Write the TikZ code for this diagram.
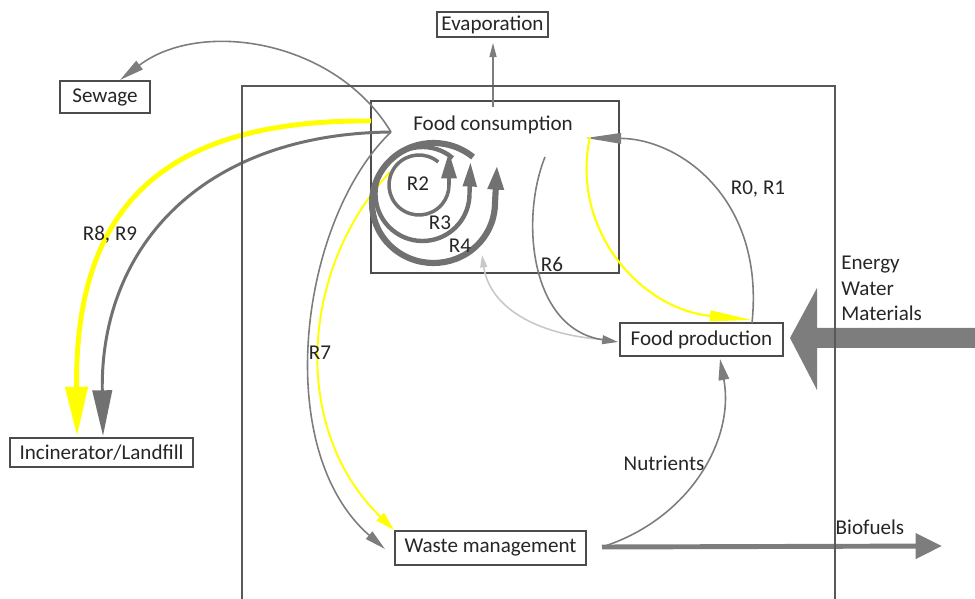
\documentclass[tikz,border=0pt]{standalone}
\usepackage{fontspec}
\setmainfont{Carlito}
\usetikzlibrary{arrows.meta}

\definecolor{flowgray}{RGB}{125,125,125}
\definecolor{lightflow}{RGB}{200,200,200}
\definecolor{flowyellow}{RGB}{255,255,0}

\tikzset{
  lbl/.style={font=\fontsize{12}{14}\selectfont, inner sep=0pt, text=black!85},
  box/.style={draw=black!70, line width=0.6pt, fill=white, inner sep=0pt,
              font=\fontsize{12}{14}\selectfont, text=black!85},
  thinflow/.style={draw=flowgray, line width=0.9pt},
  loopflow/.style={draw=flowgray!90!black},
  yflow/.style={draw=flowyellow},
}

\begin{document}
\begin{tikzpicture}[x=0.02cm, y=0.02cm]
\useasboundingbox (0,0) rectangle (975,599);

% ---- resource inflow (drawn under the system boundary)
\fill[flowgray] (975,271) -- (817,271) -- (817,311) -- (790,261)
                -- (817,209) -- (817,251) -- (975,251) -- cycle;

% ---- boxes
\node[box, minimum width=2.22cm, minimum height=0.50cm] (evap) at (492.5,574.5) {Evaporation};
\node[box, minimum width=1.80cm, minimum height=0.64cm] (sewage) at (105,502) {Sewage};
\node[box, minimum width=3.66cm, minimum height=0.58cm] (incin) at (101.5,146.5) {Incinerator/Landfill};
\node[box, minimum width=3.26cm, minimum height=0.66cm] (prod) at (701.5,259.5) {Food production};
\node[box, minimum width=3.82cm, minimum height=0.68cm] (waste) at (490.5,51) {Waste management};
\node[box, fill=none, minimum width=4.96cm, minimum height=3.44cm] (cons) at (495,412) {};
\node[lbl] (conslabel) at (493,474) {Food consumption};

% ---- connector end points
\coordinate (apex) at (391,467);
\coordinate (sewtip) at (120,519);
\coordinate (evstart) at (493,492);
\coordinate (evtip) at (493,556);
\coordinate (incgray) at (103,163);
\coordinate (yelstart) at (371,478);
\coordinate (incyel) at (77,163);
\coordinate (r7ystart) at (390,427);
\coordinate (wastegray) at (385,50);
\coordinate (wasteyel) at (394,69);
\coordinate (r6start) at (545,442);
\coordinate (prodwest) at (618,257);
\coordinate (prodlight) at (612,259);
\coordinate (r4tip) at (482,344);
\coordinate (prodtop) at (752,276);
\coordinate (constip) at (586,461);
\coordinate (r01ystart) at (590,462);
\coordinate (prodyel) at (752,279);
\coordinate (outstart) at (602,52);
\coordinate (prodbot) at (720,240);
\coordinate (biotip) at (942,53);

% ---- yellow R7 path (partly hidden under the loops)
\draw[yflow, line width=1.1pt, -{Triangle[length=11pt,width=6pt]}]
  (r7ystart) .. controls (300,330) and (290,170) .. (wasteyel);

% ---- loops R2, R3, R4 inside food consumption
\draw[loopflow, line width=2pt, -{Triangle[length=15pt,width=8.5pt]}]
  (419,414) ++(50:30) arc[start angle=50, end angle=360, radius=30] -- ++(0,33);
\draw[loopflow, line width=2.5pt, -{Triangle[length=14pt,width=7.5pt]}]
  (422.5,405) ++(50:47) arc[start angle=50, end angle=360, radius=47] -- ++(1,32);
\draw[loopflow, line width=3.5pt, -{Triangle[length=14pt,width=8.5pt]}]
  (433.5,396) ++(61.5*cos 50, 60*sin 50)
  arc[start angle=50, end angle=360, x radius=61.5, y radius=60] -- ++(2,38);

% ---- evaporation and sewage
\draw[thinflow, line width=0.8pt, -{Triangle[length=8pt,width=4pt]}] (evstart) -- (evtip);
\draw[thinflow, -{Triangle[length=14pt,width=6pt]}]
  (apex) .. controls (335,560) and (200,580) .. (sewtip);

% ---- R8, R9 to incinerator / landfill
\draw[yflow, line width=2.8pt, -{Triangle[length=28pt,width=12.5pt]}]
  (yelstart) .. controls (150,480) and (75,380) .. (incyel);
\draw[loopflow, line width=1.7pt, -{Triangle[length=26pt,width=11pt]}]
  (apex) .. controls (200,465) and (100,350) .. (incgray);

% ---- R7 to waste management
\draw[thinflow, -{Triangle[length=12pt,width=5.5pt]}]
  (apex) .. controls (300,380) and (270,150) .. (wastegray);

% ---- R6 and the return to R4
\draw[draw=lightflow, line width=0.9pt, -{Triangle[length=7pt,width=4pt]}]
  (prodlight) .. controls (540,262) and (490,290) .. (r4tip);
\draw[thinflow, -{Triangle[length=9pt,width=5pt]}]
  (r6start) .. controls (520,380) and (530,270) .. (prodwest);

% ---- R0, R1 between production and consumption
\draw[thinflow, -{Triangle[length=20pt,width=6pt]}]
  (prodtop) .. controls (765,400) and (680,460) .. (constip);
\draw[yflow, line width=1.2pt, -{Triangle[length=24pt,width=6pt]}]
  (r01ystart) .. controls (570,370) and (640,290) .. (prodyel);

% ---- outputs of waste management
\draw[thinflow, -{Triangle[length=12pt,width=6pt]}]
  (outstart) .. controls (690,80) and (735,160) .. (prodbot);
\draw[draw=flowgray, line width=2.8pt, -{Triangle[length=15pt,width=14pt]}]
  (outstart) -- (biotip);

% ---- system boundary
\draw[black!65, line width=0.8pt] (242,0) -- (242,513) -- (835,513) -- (835,0);

% ---- labels
\node[lbl] (lr2) at (418,415) {R2};
\node[lbl] (lr3) at (440,376) {R3};
\node[lbl] (lr4) at (460,353) {R4};
\node[lbl] (lr6) at (552,335) {R6};
\node[lbl] (lr7) at (320,246) {R7};
\node[lbl] (lr89) at (110,364) {R8, R9};
\node[lbl] (lr01) at (758,410) {R0, R1};
\node[lbl] (lnut) at (664,136) {Nutrients};
\node[lbl] (lbio) at (870,72) {Biofuels};
\node[lbl, anchor=west] (lenergy) at (841,334) {Energy};
\node[lbl, anchor=west] (lwater) at (841,310) {Water};
\node[lbl, anchor=west] (lmat) at (841,286) {Materials};
\end{tikzpicture}
\end{document}
